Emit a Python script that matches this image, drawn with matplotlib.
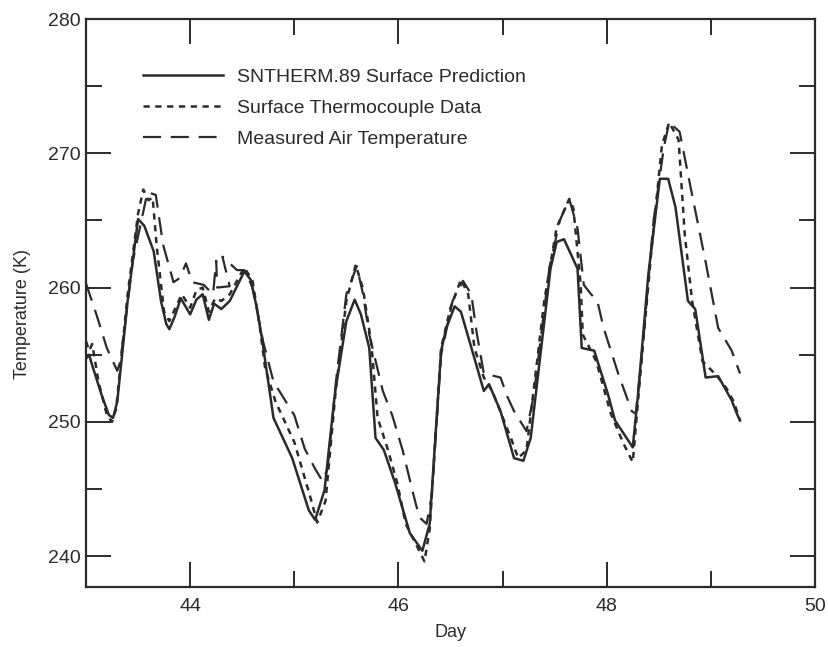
import matplotlib
matplotlib.use("Agg")
import matplotlib.pyplot as plt
from matplotlib.ticker import MultipleLocator

plt.rcParams['font.family'] = ['Liberation Sans', 'DejaVu Sans']
plt.rcParams['lines.scale_dashes'] = False

# SNTHERM.89 surface prediction
model_day = [43.00, 43.03, 43.06, 43.15, 43.22, 43.26, 43.30, 43.40, 43.50, 43.56,
             43.65, 43.72, 43.77, 43.80, 43.85, 43.91, 44.00, 44.06, 44.12, 44.18,
             44.23, 44.30, 44.38, 44.52, 44.58, 44.64, 44.69, 44.80, 44.98, 45.14,
             45.20, 45.29, 45.39, 45.50, 45.58, 45.64, 45.72, 45.78, 45.86, 45.97,
             46.11, 46.23, 46.30, 46.41, 46.46, 46.54, 46.60, 46.69, 46.82, 46.87,
             46.98, 47.11, 47.20, 47.27, 47.46, 47.52, 47.59, 47.72, 47.76, 47.88,
             48.01, 48.08, 48.25, 48.30, 48.40, 48.51, 48.59, 48.66, 48.78, 48.85,
             48.95, 49.07, 49.15, 49.20, 49.25, 49.28]
model_temp = [254.7, 255.0, 254.2, 252.0, 250.5, 250.3, 251.5, 259.0, 265.1, 264.6,
              262.7, 259.0, 257.3, 256.9, 257.8, 259.2, 258.0, 259.1, 259.5, 257.6,
              258.8, 258.4, 259.0, 261.2, 260.6, 258.5, 256.2, 250.3, 247.3, 243.4,
              242.7, 244.9, 252.1, 257.5, 259.1, 258.0, 255.5, 248.8, 247.9, 245.4,
              241.7, 240.4, 242.4, 255.3, 257.0, 258.6, 258.2, 255.8, 252.3, 252.8,
              250.8, 247.3, 247.1, 248.8, 261.4, 263.4, 263.6, 261.4, 255.5, 255.3,
              252.1, 250.1, 248.1, 252.0, 261.0, 268.1, 268.1, 266.0, 259.0, 258.4,
              253.3, 253.4, 252.3, 251.6, 250.6, 250.1]

# Surface thermocouple data
tc_day = [43.00, 43.03, 43.06, 43.12, 43.20, 43.25, 43.29, 43.40, 43.50, 43.55,
          43.60, 43.64, 43.68, 43.75, 43.80, 43.86, 43.92, 44.00, 44.06, 44.12,
          44.18, 44.24, 44.30, 44.38, 44.52, 44.60, 44.67, 44.72, 44.82, 45.00,
          45.15, 45.22, 45.30, 45.40, 45.50, 45.59, 45.66, 45.74, 45.80, 45.90,
          45.99, 46.07, 46.20, 46.25, 46.30, 46.41, 46.50, 46.60, 46.67, 46.73,
          46.82, 46.90, 47.08, 47.15, 47.23, 47.40, 47.52, 47.64, 47.68, 47.75,
          47.77, 47.90, 48.04, 48.16, 48.25, 48.30, 48.42, 48.53, 48.60, 48.69,
          48.75, 48.82, 48.92, 49.05, 49.15, 49.22, 49.28]
tc_temp = [256.0, 255.3, 255.8, 253.0, 250.5, 250.0, 251.0, 259.5, 265.5, 267.3,
           266.5, 266.7, 263.0, 258.2, 257.5, 258.5, 259.5, 258.5, 259.8, 260.0,
           258.2, 259.2, 259.0, 259.5, 261.5, 260.5, 257.0, 254.0, 251.5, 248.5,
           244.5, 242.5, 244.1, 252.5, 259.0, 261.7, 259.9, 255.8, 250.3, 247.9,
           245.4, 242.4, 240.4, 239.6, 242.0, 255.5, 258.5, 260.6, 259.5, 255.5,
           253.3, 252.3, 248.8, 247.3, 247.9, 259.0, 264.5, 266.6, 265.9, 260.2,
           256.5, 254.5, 250.6, 248.4, 247.0, 251.5, 262.0, 270.6, 272.3, 271.0,
           263.9, 259.0, 254.5, 253.5, 252.5, 251.5, 250.1]

# Measured air temperature
air_day = [43.00, 43.10, 43.20, 43.30, 43.33, 43.45, 43.59, 43.67, 43.74, 43.84,
           43.90, 43.96, 44.02, 44.13, 44.22, 44.25, 44.26, 44.38, 44.31, 44.45,
           44.52, 44.60, 44.70, 44.80, 45.00, 45.10, 45.20, 45.27, 45.32, 45.40,
           45.50, 45.60, 45.66, 45.72, 45.85, 45.94, 46.04, 46.14, 46.20, 46.27,
           46.32, 46.41, 46.52, 46.62, 46.70, 46.75, 46.82, 46.98, 47.05, 47.11,
           47.23, 47.30, 47.45, 47.55, 47.64, 47.72, 47.78, 47.85, 47.91, 47.97,
           48.11, 48.24, 48.28, 48.35, 48.45, 48.55, 48.60, 48.70, 48.82, 48.95,
           49.07, 49.20, 49.28]
air_temp = [260.3, 258.0, 255.5, 253.8, 254.5, 262.0, 267.1, 266.9, 263.2, 260.4,
            260.7, 261.8, 260.4, 260.2, 259.5, 262.0, 260.0, 260.1, 262.3, 261.3,
            261.3, 260.0, 256.0, 253.0, 250.5, 248.0, 246.5, 245.6, 246.5, 253.0,
            259.5, 261.6, 259.5, 256.5, 252.3, 250.5, 247.9, 244.7, 242.9, 242.4,
            244.5, 255.0, 259.0, 260.5, 259.5, 256.7, 253.6, 253.3, 251.8, 250.8,
            249.3, 252.0, 261.5, 265.0, 266.6, 264.4, 260.2, 259.5, 259.0, 257.0,
            253.6, 250.8, 250.6, 256.0, 265.0, 270.5, 272.3, 271.6, 266.9, 261.9,
            257.0, 255.3, 253.6]

labels = ["SNTHERM.89 Surface Prediction", "Surface Thermocouple Data",
          "Measured Air Temperature"]

ink = "#2b2b2b"
fig = plt.figure(figsize=(8.29, 6.47), dpi=100)
ax = fig.add_axes([86/829, 1-587/647, 729/829, 568/647])

ax.plot(model_day, model_temp, color=ink, lw=1.8, ls='-', label=labels[0])
ax.plot(tc_day, tc_temp, color=ink, lw=1.8, ls=(0, (4.5, 4)), label=labels[1])
ax.plot(air_day, air_temp, color=ink, lw=1.6, ls=(0, (13, 7)), label=labels[2])

ax.set_xlim(43, 50)
ax.set_ylim(237.7, 280)
ax.xaxis.set_major_locator(MultipleLocator(2))
ax.xaxis.set_minor_locator(MultipleLocator(1))
ax.yaxis.set_major_locator(MultipleLocator(10))
ax.yaxis.set_minor_locator(MultipleLocator(5))
ax.tick_params(which='both', direction='in', top=True, right=True, color=ink,
               width=1.4, labelsize=14, labelcolor=ink)
ax.tick_params(which='major', length=18)
ax.tick_params(which='minor', length=11.5)
ax.tick_params(axis='x', pad=8)
ax.tick_params(axis='y', pad=4)
for s in ax.spines.values():
    s.set_linewidth(1.6)
    s.set_color(ink)

ax.set_xlabel("Day", fontsize=13, color=ink)
ax.set_ylabel("Temperature (K)", fontsize=13, color=ink)
ax.xaxis.set_label_coords(0.5, -0.066)
ax.yaxis.set_label_coords(-0.076, 0.48)

leg = ax.legend(loc='upper left', bbox_to_anchor=(0.078, 0.913), frameon=False,
                fontsize=14, handlelength=4.1, handletextpad=0.75,
                labelspacing=0.68, borderpad=0, borderaxespad=0)
for t in leg.get_texts():
    t.set_color(ink)

fig.savefig("out.png", dpi=100, facecolor='white')
